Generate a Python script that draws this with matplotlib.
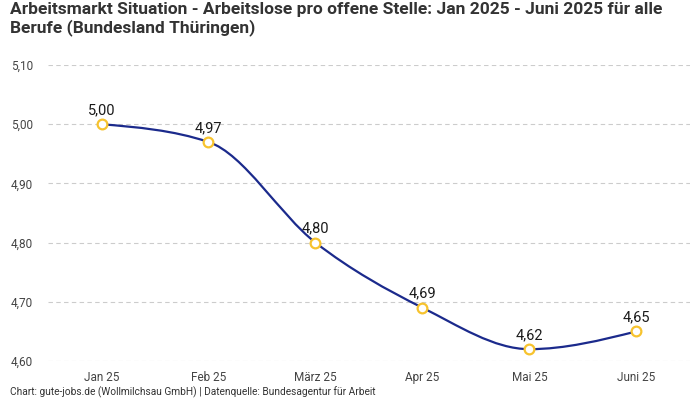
import numpy as np
import matplotlib
matplotlib.use("Agg")
import matplotlib.pyplot as plt
from matplotlib.path import Path
from matplotlib.patches import PathPatch
from matplotlib import font_manager

months = ["Jan 25", "Feb 25", "März 25", "Apr 25", "Mai 25", "Juni 25"]
values = [5.00, 4.97, 4.80, 4.69, 4.62, 4.65]
y_ticks = [4.60, 4.70, 4.80, 4.90, 5.00, 5.10]

names = {f.name for f in font_manager.fontManager.ttflist}
narrow = "Liberation Sans Narrow" if "Liberation Sans Narrow" in names else "Roboto"
plain = "Roboto" if "Roboto" in names else "DejaVu Sans"

LINE = "#1b2a8c"
MARK = "#f7c32e"


def monotone_path(xs, ys):
    # d3 curveMonotoneX style bezier segments
    xs = np.asarray(xs, float)
    ys = np.asarray(ys, float)
    n = len(xs)
    h = np.diff(xs)
    s = np.diff(ys) / h
    t = np.zeros(n)
    for i in range(1, n - 1):
        p = (s[i - 1] * h[i] + s[i] * h[i - 1]) / (h[i - 1] + h[i])
        t[i] = (np.sign(s[i - 1]) + np.sign(s[i])) * min(abs(s[i - 1]), abs(s[i]), 0.5 * abs(p))
    t[0] = (3 * s[0] - t[1]) / 2
    t[-1] = (3 * s[-1] - t[-2]) / 2
    verts = [(xs[0], ys[0])]
    codes = [Path.MOVETO]
    for i in range(n - 1):
        dx = h[i] / 3
        verts += [(xs[i] + dx, ys[i] + dx * t[i]),
                  (xs[i + 1] - dx, ys[i + 1] - dx * t[i + 1]),
                  (xs[i + 1], ys[i + 1])]
        codes += [Path.CURVE4] * 3
    return Path(verts, codes)


fig = plt.figure(figsize=(7, 4), dpi=100)
ax = fig.add_axes([0.0686, 0.0975, 0.917, 0.74])

x = np.arange(len(months))
ax.add_patch(PathPatch(monotone_path(x, values), facecolor="none",
                       edgecolor=LINE, lw=1.6, zorder=3))
ax.plot(x, values, linestyle="none", marker="o", ms=7, mfc="white",
        mec=MARK, mew=1.6, zorder=4)

for xi, v in zip(x, values):
    ax.annotate(f"{v:.2f}".replace(".", ","), (xi, v), xytext=(0, 5),
                textcoords="offset points", ha="center", va="bottom",
                fontsize=10.5, color="#1a1a1a", family=plain)

ax.set_xlim(-0.5, 5.5)
ax.set_ylim(4.60, 5.10)
ax.set_yticks(y_ticks)
ax.set_yticklabels([f"{v:.2f}".replace(".", ",") for v in y_ticks],
                   family=plain, fontsize=8.5, color="#444444")
ax.set_xticks(x)
ax.set_xticklabels(months, family=narrow, fontsize=8.5, color="#444444")
ax.tick_params(axis="y", length=0, pad=11)
ax.tick_params(axis="x", length=0, pad=7)
ax.grid(axis="y", color="#cccccc", linestyle=(0, (4, 3)), lw=0.8)
for sp in ax.spines.values():
    sp.set_visible(False)
ax.set_axisbelow(True)

fig.text(0.014, 0.995, "Arbeitsmarkt Situation - Arbeitslose pro offene Stelle: Jan 2025 - Juni 2025 für alle\nBerufe (Bundesland Thüringen)",
         ha="left", va="top", family=narrow, fontsize=12.5, fontweight="bold",
         color="#333333", linespacing=1.15)
fig.text(0.014, 0.004, "Chart: gute-jobs.de (Wollmilchsau GmbH) | Datenquelle: Bundesagentur für Arbeit",
         ha="left", va="bottom", family=narrow, fontsize=7.3, color="#333333")

fig.savefig("out.png", dpi=100)
